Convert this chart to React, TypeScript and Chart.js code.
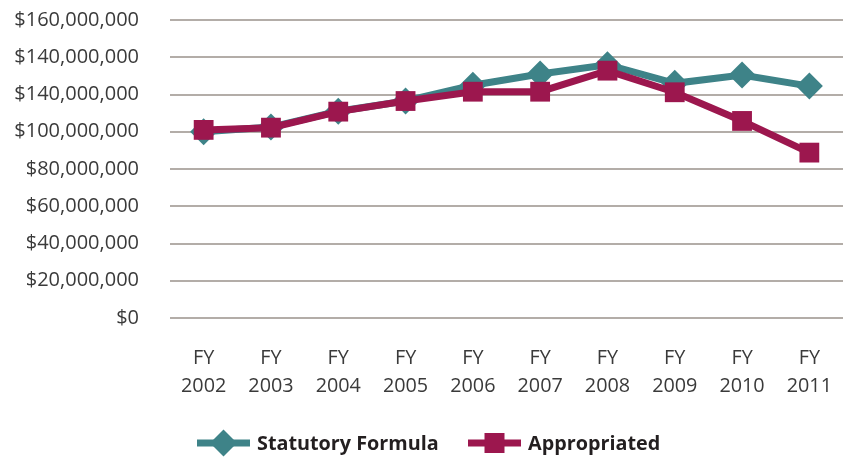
import React, { useEffect, useRef } from "react";
import { Chart, registerables } from "chart.js";

Chart.register(...registerables);

const categories: string[][] = [
  ["FY", "2002"], ["FY", "2003"], ["FY", "2004"], ["FY", "2005"], ["FY", "2006"],
  ["FY", "2007"], ["FY", "2008"], ["FY", "2009"], ["FY", "2010"], ["FY", "2011"],
];
const statutoryFormula: number[] = [100000000, 102500000, 111000000, 116500000, 125000000, 131000000, 136000000, 126000000, 130500000, 124500000];
const appropriated: number[] = [101000000, 102200000, 110800000, 116500000, 121500000, 121500000, 132800000, 121200000, 105800000, 88800000];
const yTickLabels: string[] = ["$0", "$20,000,000", "$40,000,000", "$60,000,000", "$80,000,000", "$100,000,000", "$140,000,000", "$140,000,000", "$160,000,000"];
const seriesNames: string[] = ["Statutory Formula", "Appropriated"];

const TEAL = "#3E8388";
const CRIMSON = "#9C174E";
const FONT = "'Open Sans', 'Noto Sans', sans-serif";

const legendPlugin = {
  id: "customLegend",
  afterDraw(chart: any) {
    const ctx = chart.ctx as CanvasRenderingContext2D;
    const y = 443;
    ctx.save();
    ctx.font = `bold 19.8px ${FONT}`;
    ctx.textBaseline = "middle";
    const items = [
      { x: 197, color: TEAL, style: "diamond", label: seriesNames[0] },
      { x: 468, color: CRIMSON, style: "square", label: seriesNames[1] },
    ];
    for (const it of items) {
      ctx.strokeStyle = it.color;
      ctx.lineWidth = 7;
      ctx.beginPath();
      ctx.moveTo(it.x, y);
      ctx.lineTo(it.x + 53, y);
      ctx.stroke();
      const cx = it.x + 26.5;
      ctx.fillStyle = it.color;
      ctx.beginPath();
      if (it.style === "diamond") {
        ctx.moveTo(cx, y - 13.5);
        ctx.lineTo(cx + 13.5, y);
        ctx.lineTo(cx, y + 13.5);
        ctx.lineTo(cx - 13.5, y);
        ctx.closePath();
      } else {
        ctx.rect(cx - 10, y - 10, 20, 20);
      }
      ctx.fill();
      ctx.fillStyle = "#231F20";
      ctx.fillText(it.label, it.x + 60, y + 1);
    }
    ctx.restore();
  },
};

export default function App() {
  const ref = useRef<HTMLCanvasElement | null>(null);
  useEffect(() => {
    if (!ref.current) return;
    const chart = new Chart(ref.current, {
      type: "line",
      data: {
        labels: categories,
        datasets: [
          {
            label: seriesNames[1],
            data: appropriated,
            borderColor: CRIMSON,
            backgroundColor: CRIMSON,
            borderWidth: 7,
            pointStyle: "rect",
            pointRadius: 14,
            pointBorderWidth: 0,
            tension: 0,
            order: 0,
          },
          {
            label: seriesNames[0],
            data: statutoryFormula,
            borderColor: TEAL,
            backgroundColor: TEAL,
            borderWidth: 7,
            pointStyle: "rectRot",
            pointRadius: 13.5,
            pointBorderWidth: 0,
            tension: 0,
            order: 1,
          },
        ],
      },
      options: {
        animation: false,
        responsive: false,
        maintainAspectRatio: false,
        devicePixelRatio: 1,
        layout: { autoPadding: false, padding: { top: 20, right: 0, left: 0, bottom: 50 } },
        plugins: { legend: { display: false }, tooltip: { enabled: false } },
        scales: {
          x: {
            offset: true,
            grid: { display: false, drawTicks: true, tickLength: 26, tickColor: "transparent" },
            border: { display: false },
            ticks: {
              padding: 0,
              color: "#3A3A3A",
              font: { family: FONT, size: 19.8, lineHeight: 1.42 },
              maxRotation: 0,
              autoSkip: false,
            },
            afterFit(scale: any) {
              scale.height = 89;
            },
          },
          y: {
            min: 0,
            max: 160000000,
            grid: { color: "#B3ADA8", lineWidth: 2, drawTicks: true, tickLength: 31, tickColor: "transparent" },
            border: { display: false },
            ticks: {
              stepSize: 20000000,
              padding: 0,
              color: "#3A3A3A",
              font: { family: FONT, size: 20 },
              callback: (_v: any, i: number) => yTickLabels[i],
            },
            afterFit(scale: any) {
              scale.width = 170;
            },
          },
        },
      },
      plugins: [legendPlugin],
    });
    return () => chart.destroy();
  }, []);
  return (
    <div style={{ position: "fixed", left: 0, top: 0, width: 843, height: 457, background: "#fff" }}>
      <canvas ref={ref} width={843} height={457} style={{ display: "block", width: 843, height: 457 }} />
    </div>
  );
}
